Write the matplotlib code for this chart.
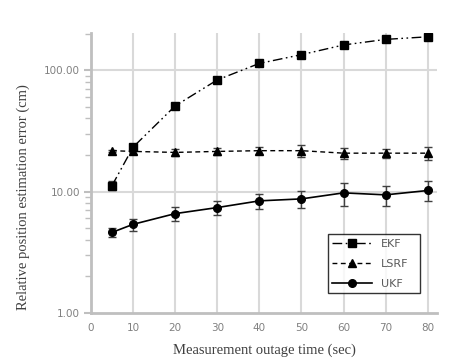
import matplotlib.pyplot as plt
from matplotlib.ticker import FixedLocator, LogLocator, NullFormatter, FuncFormatter

time_sec = [5, 10, 20, 30, 40, 50, 60, 70, 80]

ekf = [11.2, 23.2, 50.7, 83.0, 113.5, 134.0, 161.0, 179.0, 188.0]
ekf_err = [0.9, 1.2, 1.5, 2.0, 2.0, 2.0, 2.0, 2.0, 2.0]

lsrf = [21.7, 21.4, 21.0, 21.4, 21.7, 21.7, 20.7, 20.7, 20.7]
lsrf_err = [0.4, 1.0, 1.2, 1.5, 1.5, 2.3, 2.3, 1.9, 2.4]

ukf = [4.61, 5.37, 6.58, 7.38, 8.38, 8.7, 9.75, 9.39, 10.2]
ukf_err = [0.4, 0.6, 0.9, 1.0, 1.2, 1.35, 2.1, 1.75, 1.9]

x_ticks = [0, 10, 20, 30, 40, 50, 60, 70, 80]

grid_col = '#d9d9d9'
axis_col = '#bfbfbf'
tick_col = '#808080'

fig = plt.figure(figsize=(4.68, 3.62), dpi=100)
ax = fig.add_axes([0.1944, 0.1354, 0.7393, 0.7734])

err_kw = dict(ecolor='#404040', elinewidth=1, capsize=3, capthick=1)
h1 = ax.errorbar(time_sec, ekf, yerr=ekf_err, color='black', lw=1,
                 linestyle=(0, (7, 2.5, 1.2, 2.5, 1.2, 2.5)), marker='s', ms=5.5,
                 zorder=3, **err_kw)
h2 = ax.errorbar(time_sec, lsrf, yerr=lsrf_err, color='black', lw=1,
                 linestyle=(0, (3.5, 2.5)), marker='^', ms=5.5,
                 zorder=3, **err_kw)
h3 = ax.errorbar(time_sec, ukf, yerr=ukf_err, color='black', lw=1.2,
                 linestyle='-', marker='o', ms=5.5,
                 zorder=3, **err_kw)

ax.set_yscale('log')
ax.set_ylim(1, 202)
ax.set_xlim(0, 82.2)

ax.xaxis.set_major_locator(FixedLocator(x_ticks))
ax.yaxis.set_major_locator(FixedLocator([1, 10, 100]))
ax.yaxis.set_major_formatter(FuncFormatter(lambda v, p: '{0:.2f}'.format(v)))
ax.yaxis.set_minor_locator(LogLocator(base=10, subs=range(2, 10)))
ax.yaxis.set_minor_formatter(NullFormatter())

for x in x_ticks[1:]:
    ax.axvline(x, color=grid_col, lw=1.5, zorder=0)
for y in [10, 100]:
    ax.axhline(y, color=grid_col, lw=1.5, zorder=0)

for side in ['top', 'right']:
    ax.spines[side].set_visible(False)
for side in ['left', 'bottom']:
    ax.spines[side].set_color(axis_col)
    ax.spines[side].set_linewidth(2)

ax.tick_params(axis='x', length=0, labelsize=7.5, labelcolor=tick_col, pad=7)
ax.tick_params(axis='y', which='major', length=5, width=1.5, color=axis_col,
               labelsize=7.5, labelcolor=tick_col, pad=3)
ax.tick_params(axis='y', which='minor', length=4, width=1, color=axis_col)

ax.set_xlabel('Measurement outage time (sec)', family='Liberation Serif',
              fontsize=10.5, color='#404040', labelpad=8)
ax.set_ylabel('Relative position estimation error (cm)', family='Liberation Serif',
              fontsize=10.5, color='#404040')
ax.yaxis.set_label_coords(-0.176, 0.414)

leg = ax.legend([h1[0], h2[0], h3[0]], ['EKF', 'LSRF', 'UKF'],
                loc='lower left', bbox_to_anchor=(0.685, 0.071, 0.266, 0.218),
                mode='expand', fontsize=8, handlelength=3.6, frameon=True,
                fancybox=False, edgecolor='black', borderaxespad=0,
                labelspacing=0.9)
leg.get_frame().set_linewidth(1)
for t in leg.get_texts():
    t.set_color('#595959')

plt.savefig('out.png', dpi=100)
